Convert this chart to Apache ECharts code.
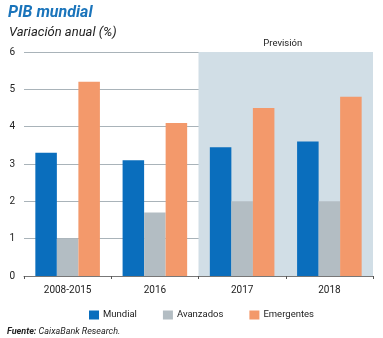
<!DOCTYPE html>
<html>
<head>
<meta charset="utf-8">
<script src="https://cdn.jsdelivr.net/npm/echarts@6/dist/echarts.min.js"></script>
<style>
html,body{margin:0;padding:0;background:#fff;}
#c{width:383px;height:338px;}
</style>
</head>
<body>
<div id="c"></div>
<script>
var categories = ['2008-2015', '2016', '2017', '2018'];
var mundial = [3.3, 3.1, 3.45, 3.6];
var avanzados = [1.0, 1.7, 2.0, 2.0];
var emergentes = [5.2, 4.1, 4.5, 4.8];
var yTicks = [0, 1, 2, 3, 4, 5, 6];
var forecastRange = [2, 4]; // category index span: 2017..2018
var forecastLabel = 'Previsión';

var FONT = 'Roboto, "Noto Sans", sans-serif';
var chart = echarts.init(document.getElementById('c'), null, {renderer: 'canvas'});
var option = {
  animation: false,
  textStyle: {fontFamily: FONT},
  title: [
    {text: 'PIB mundial', left: 8, top: 5, padding: 0,
     textStyle: {fontSize: 16, fontWeight: 'bold', fontStyle: 'italic', color: '#1a74bb', fontFamily: FONT}},
    {text: 'Variación anual (%)', left: 9, top: 26, padding: 0,
     textStyle: {fontSize: 13, fontWeight: 'normal', fontStyle: 'italic', color: '#222', fontFamily: FONT}},
    {text: '{b|Fuente:} CaixaBank Research.', left: 7, top: 327, padding: 0,
     textStyle: {fontSize: 9, fontStyle: 'italic', fontWeight: 'normal', color: '#222', fontFamily: FONT,
       rich: {b: {fontSize: 9, fontStyle: 'italic', fontWeight: 'bold', color: '#222', fontFamily: FONT}}}}
  ],
  legend: {
    data: ['Mundial', 'Avanzados', 'Emergentes'],
    left: 84, top: 305,
    itemWidth: 10, itemHeight: 9, itemGap: 26,
    icon: 'rect',
    textStyle: {fontSize: 9.5, color: '#222', padding: [0, 0, 0, -1]}
  },
  grid: {left: 24, right: 10, top: 52, bottom: 62, containLabel: false},
  xAxis: [
    {type: 'category', data: categories,
     axisLine: {lineStyle: {color: '#777', width: 1}},
     axisTick: {show: true, length: 3, lineStyle: {color: '#555'}},
     axisLabel: {fontSize: 10, color: '#222', margin: 9},
     splitLine: {show: false}},
    {type: 'value', min: 0, max: 4, show: false}
  ],
  yAxis: {
    type: 'value', min: yTicks[0], max: yTicks[yTicks.length - 1], interval: 1,
    axisLine: {show: false}, axisTick: {show: false},
    axisLabel: {fontSize: 10, color: '#222', margin: 9},
    splitLine: {lineStyle: {color: '#a9b3b9', width: 1}}
  },
  series: [
    {type: 'line', xAxisIndex: 1, yAxisIndex: 0, data: [], z: -1, silent: true,
     markArea: {silent: true,
       itemStyle: {color: '#d1dee6'},
       label: {show: true, position: 'top', distance: 3, offset: [-3, 0], fontSize: 9.5, color: '#222', fontFamily: FONT},
       data: [[{xAxis: forecastRange[0], yAxis: yTicks[yTicks.length - 1], name: forecastLabel},
               {xAxis: forecastRange[1], yAxis: yTicks[0]}]]}},
    {name: 'Mundial', type: 'bar', data: mundial, barGap: '0%', barCategoryGap: '26%',
     itemStyle: {color: '#0a6ebd'}},
    {name: 'Avanzados', type: 'bar', data: avanzados, itemStyle: {color: '#b3bdc3'}},
    {name: 'Emergentes', type: 'bar', data: emergentes, itemStyle: {color: '#f3996b'}}
  ]
};
chart.setOption(option);
</script>
</body>
</html>
